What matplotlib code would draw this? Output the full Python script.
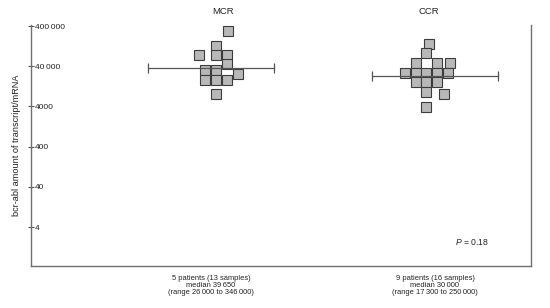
import matplotlib
matplotlib.use("Agg")
import matplotlib.pyplot as plt
from matplotlib.ticker import FixedLocator, NullLocator, FixedFormatter

plt.rcParams['font.family'] = ['Liberation Sans', 'DejaVu Sans']
plt.rcParams['mathtext.fontset'] = 'custom'
plt.rcParams['mathtext.it'] = 'Liberation Sans:italic'
plt.rcParams['mathtext.rm'] = 'Liberation Sans'

# ---- data ----
groups = ["MCR", "CCR"]
group_pos = [0, 1]
group_notes = ["5 patients (13 samples)\nmedian 39\u2009650\n(range 26\u2009000 to 346\u2009000)",
               "9 patients (16 samples)\nmedian 30\u2009000\n(range 17\u2009300 to 250\u2009000)"]

mcr_values = [300000, 130000, 77000, 77000, 77000, 45000, 32000, 32000,
              25000, 18000, 18000, 18000, 8200]
mcr_offsets = [0.077, 0.022, -0.052, 0.022, 0.070, 0.070, -0.027, 0.022,
               0.119, -0.027, 0.022, 0.070, 0.022]

ccr_values = [140000, 84000, 49000, 49000, 49000, 27500, 27500, 27500, 27500, 27500,
              16500, 16500, 16500, 9300, 8000, 3900]
ccr_offsets = [-0.025, -0.039, -0.086, 0.010, 0.067, -0.135, -0.086, -0.039, 0.010, 0.058,
               -0.086, -0.039, 0.010, -0.039, 0.040, -0.039]

median_lines = [36000, 23000]
median_halfwidth = 0.28

ytick_vals = [4, 40, 400, 4000, 40000, 400000]
ytick_labels = ["4", "40", "400", "4000", "40\u2009000", "400\u2009000"]

p_text = "$P$ = 0.18"

# ---- figure ----
fig = plt.figure(figsize=(5.5, 3.08), dpi=100)
ax = fig.add_axes([31/550, 1-266/308, 500/550, 241/308])

ax.set_yscale('log')
ax.set_ylim(0.43, 424000)
ax.set_xlim(-0.804, 1.429)

sq = dict(marker='s', linestyle='none', markersize=7.5,
          markerfacecolor='#b8b8b8', markeredgecolor='#3c3c3c', markeredgewidth=0.8, zorder=2)
ax.plot([group_pos[0] + o for o in mcr_offsets], mcr_values, **sq)
ax.plot([group_pos[1] + o for o in ccr_offsets], ccr_values, **sq)

for gp, med in zip(group_pos, median_lines):
    ax.plot([gp - median_halfwidth, gp + median_halfwidth], [med, med],
            color='#555555', linewidth=0.9, marker='|', markersize=7.5,
            markeredgewidth=0.9, zorder=3)

# y axis
ax.yaxis.set_major_locator(FixedLocator(ytick_vals))
ax.yaxis.set_major_formatter(FixedFormatter(ytick_labels))
ax.yaxis.set_minor_locator(NullLocator())
ax.tick_params(axis='y', direction='inout', length=3.8, width=0.8, color='#555555',
               labelsize=6.0, pad=-4.6, labelcolor='#222222')
for lab in ax.get_yticklabels():
    lab.set_horizontalalignment('left')
ax.set_ylabel("bcr-abl amount of transcript/mRNA", fontsize=6.6, color='#222222')
ax.yaxis.set_label_coords(-10/500, 0.5)

# x axis
ax.set_xticks(group_pos)
ax.set_xticklabels(group_notes, fontsize=5.4, linespacing=0.95, color='#222222')
ax.xaxis.set_minor_locator(NullLocator())
ax.tick_params(axis='x', length=0, pad=6.5)

for sp in ['left', 'bottom', 'right']:
    ax.spines[sp].set_color('#707070')
    ax.spines[sp].set_linewidth(1.0)
ax.spines['top'].set_visible(False)

# group titles
ax.text((223-31)/500, (266-11)/241, groups[0], transform=ax.transAxes,
        ha='center', va='center', fontsize=6.8, color='#222222')
ax.text((429-31)/500, (266-11)/241, groups[1], transform=ax.transAxes,
        ha='center', va='center', fontsize=6.8, color='#222222')

ax.text((472-31)/500, (266-241.7)/241, p_text, transform=ax.transAxes,
        ha='center', va='center', fontsize=6.2, color='#222222')

fig.savefig("out.png", dpi=100)
